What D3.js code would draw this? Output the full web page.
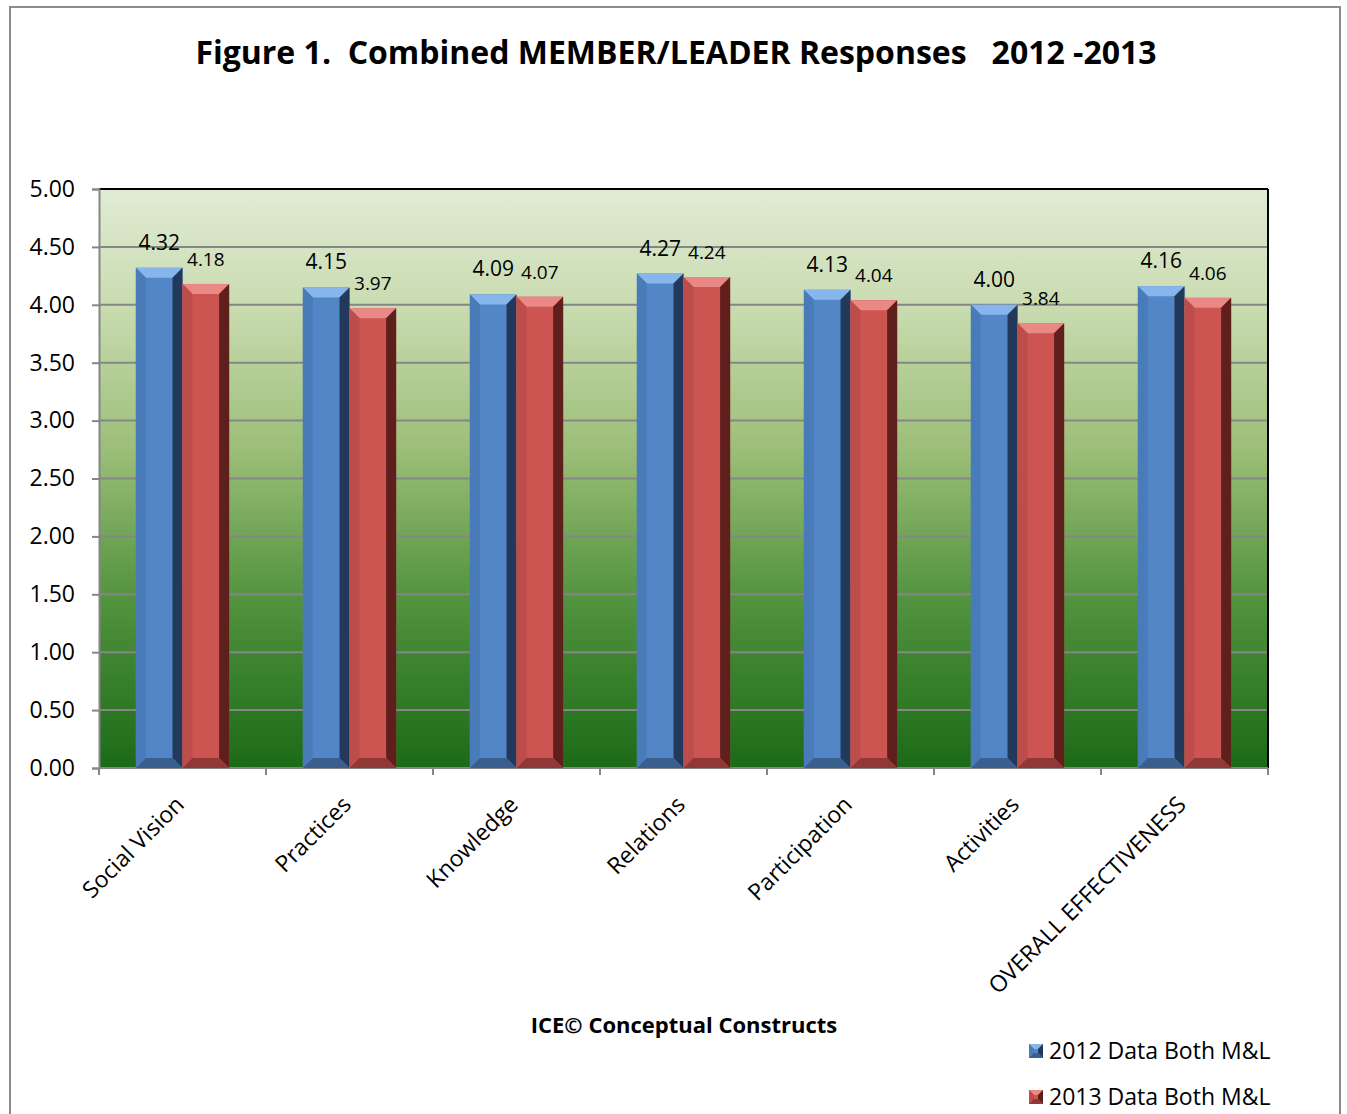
<!DOCTYPE html>
<html><head><meta charset="utf-8">
<script src="https://cdn.jsdelivr.net/npm/d3@7"></script>
<style>body{margin:0;background:#fff}svg{display:block}text{font-family:"Open Sans","Noto Sans",sans-serif}</style>
</head><body>
<script>
const categories = ["Social Vision","Practices","Knowledge","Relations","Participation","Activities","OVERALL EFFECTIVENESS"];
const values2012 = [4.32,4.15,4.09,4.27,4.13,4.00,4.16];
const values2013 = [4.18,3.97,4.07,4.24,4.04,3.84,4.06];
const seriesNames = ["2012 Data Both M&L","2013 Data Both M&L"];
const yTicks = [0,0.5,1,1.5,2,2.5,3,3.5,4,4.5,5];

const W=1347,H=1114;
const svg=d3.select("body").append("svg").attr("width",W).attr("height",H);
const defs=svg.append("defs");
const bg=defs.append("linearGradient").attr("id","bg").attr("x1",0).attr("x2",0).attr("y1",0).attr("y2",1);
[[0,"#e0ebd4"],[0.2,"#cadcb1"],[0.45,"#9cbe78"],[0.7,"#549440"],[1,"#1b6a17"]].forEach(s=>bg.append("stop").attr("offset",s[0]).attr("stop-color",s[1]));

// outer frame
svg.append("rect").attr("x",10).attr("y",7).attr("width",1330).attr("height",1120).attr("fill","none").attr("stroke","#8c8c8c").attr("stroke-width",2);

const m={l:99,r:1268,t:189,b:768};
const x=d3.scaleBand().domain(categories).range([m.l,m.r]);
const xs=d3.scaleBand().domain([0,1]).range([0,x.bandwidth()]).paddingInner(0).paddingOuter(0.79);
const y=d3.scaleLinear().domain([0,5]).range([m.b,m.t]);

svg.append("rect").attr("x",m.l).attr("y",m.t).attr("width",m.r-m.l).attr("height",m.b-m.t).attr("fill","url(#bg)");
// gridlines
svg.append("g").selectAll("line").data(yTicks.filter(d=>d>0&&d<5)).join("line")
 .attr("x1",m.l).attr("x2",m.r).attr("y1",d=>y(d)).attr("y2",d=>y(d)).attr("stroke","#868686").attr("stroke-width",2);
// top and right border black
svg.append("line").attr("x1",m.l).attr("x2",m.r).attr("y1",m.t).attr("y2",m.t).attr("stroke","#000").attr("stroke-width",2);
svg.append("line").attr("x1",m.r).attr("x2",m.r).attr("y1",m.t).attr("y2",m.b).attr("stroke","#000").attr("stroke-width",2);

// y axis
const ya=svg.append("g").attr("transform",`translate(${m.l},0)`).call(d3.axisLeft(y).tickValues(yTicks).tickFormat(d3.format(".2f")).tickSize(7).tickPadding(17));
ya.select(".domain").attr("stroke","#868686").attr("stroke-width",2);
ya.selectAll(".tick line").attr("stroke","#868686").attr("stroke-width",2);
ya.selectAll("text").attr("font-size",23).attr("fill","#000").attr("font-family","'Open Sans',sans-serif");

// x axis
const xa=svg.append("g").attr("transform",`translate(0,${m.b})`);
xa.append("line").attr("x1",m.l).attr("x2",m.r).attr("stroke","#868686").attr("stroke-width",2);
const bounds=categories.map(c=>x(c)).concat([m.r]);
xa.selectAll(".tk").data(bounds).join("line").attr("x1",d=>d).attr("x2",d=>d).attr("y1",0).attr("y2",7).attr("stroke","#868686").attr("stroke-width",2);
xa.selectAll(".lbl").data(categories).join("text")
 .attr("transform",d=>`translate(${x(d)+x.bandwidth()/2+3},${38}) rotate(-45)`)
 .attr("text-anchor","end").attr("font-size",23).attr("fill","#000").text(d=>d);

const colors=[{mid:"#5286c6",top:"#86b6ec",left:"#4a7bb9",right:"#22395c",bot:"#3a5f8f"},
              {mid:"#cc5451",top:"#ea8886",left:"#bd4d4a",right:"#5e1f1d",bot:"#8f3835"}];
function bar(g,x0,y0,w,h,c,bv){
 const b=Math.min(bv,h/2);
 g.append("rect").attr("x",x0).attr("y",y0).attr("width",w).attr("height",h).attr("fill",c.mid);
 g.append("polygon").attr("points",`${x0},${y0} ${x0+w},${y0} ${x0+w-b},${y0+b} ${x0+b},${y0+b}`).attr("fill",c.top);
 g.append("polygon").attr("points",`${x0},${y0} ${x0+b},${y0+b} ${x0+b},${y0+h-b} ${x0},${y0+h}`).attr("fill",c.left);
 g.append("polygon").attr("points",`${x0+w},${y0} ${x0+w},${y0+h} ${x0+w-b},${y0+h-b} ${x0+w-b},${y0+b}`).attr("fill",c.right);
 g.append("polygon").attr("points",`${x0},${y0+h} ${x0+w},${y0+h} ${x0+w-b},${y0+h-b} ${x0+b},${y0+h-b}`).attr("fill",c.bot);
}
const series=[values2012,values2013];
series.forEach((vals,si)=>{
 const g=svg.append("g");
 categories.forEach((c,i)=>{
  const x0=x(c)+xs(si), w=xs.bandwidth(), y0=y(vals[i]);
  bar(g,x0,y0,w,y(0)-y0,colors[si],10);
  g.append("text").attr("x",x0+w/2).attr("y",y0-18).attr("text-anchor","middle")
   .attr("font-size",si===0?21:19).attr("fill","#000").text(d3.format(".2f")(vals[i]));
 });
});

// title
svg.append("text").attr("x",676).attr("y",64).attr("text-anchor","middle").attr("font-size",32).attr("font-weight","bold").attr("fill","#000")
 .text("Figure 1.  Combined MEMBER/LEADER Responses   2012 -2013").style("white-space","pre");
// x axis title
svg.append("text").attr("x",684).attr("y",1033).attr("text-anchor","middle").attr("font-size",22).attr("font-weight","bold").attr("fill","#000").text("ICE© Conceptual Constructs");

// legend
seriesNames.forEach((n,i)=>{
 const ly=1044+i*46;
 const g=svg.append("g");
 bar(g,1029,ly,14,14,colors[i],5);
 g.append("text").attr("x",1049).attr("y",ly+15).attr("font-size",23).attr("fill","#000").text(n);
});
</script>
</body></html>
